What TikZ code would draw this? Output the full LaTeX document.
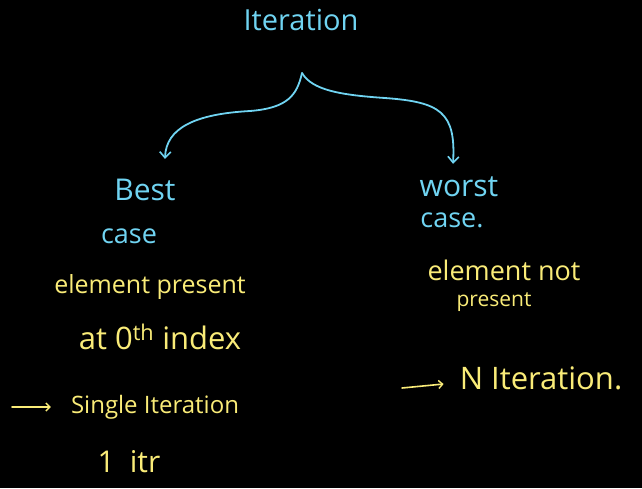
\documentclass[tikz,border=0pt]{standalone}
\usepackage{fontspec}
\setmainfont{Open Sans}
\usetikzlibrary{arrows.meta}
\definecolor{inkblue}{RGB}{112,212,242}
\definecolor{inkyellow}{RGB}{250,236,120}
\tikzset{
  bluetext/.style={text=inkblue, inner sep=0pt, anchor=center},
  yeltext/.style={text=inkyellow, inner sep=0pt, anchor=center},
  branch/.style={draw=inkblue, line width=1.8pt, line cap=round,
    -{Straight Barb[length=6pt,width=11pt,line width=1.6pt]}},
  pointer/.style={draw=inkyellow, line width=1.6pt, line cap=round,
    -{Straight Barb[length=4pt,width=8pt,line width=1.4pt]}},
}
\newcommand{\fs}[1]{\fontsize{#1}{#1}\selectfont}
\begin{document}
\begin{tikzpicture}[x=1pt,y=-1pt]
\fill[black] (0,0) rectangle (642,488);
\useasboundingbox (0,0) rectangle (642,488);

% headings
\node[bluetext, font=\fs{29}] (iter) at (301,20) {Iteration};
\coordinate (top) at (302,73);
\node[bluetext, font=\fs{30}] (best) at (145,190) {Best};
\node[bluetext, font=\fs{27}] (bestcase) at (129,236) {case};
\node[bluetext, font=\fs{30}] (worst) at (459,187) {worst};
\node[bluetext, font=\fs{27}] (worstcase) at (452,220) {case.};

% brace arrows
\draw[branch] (top) .. controls (297,95) and (288,108) .. (250,111)
  .. controls (195,114) and (166,128) .. ([yshift=20pt]best.north -| 165,0);
\draw[branch] (top) .. controls (312,90) and (340,95) .. (385,98)
  .. controls (440,102) and (456,112) .. ([yshift=13pt]worst.north -| 453,0);

% best case details
\node[yeltext, font=\fs{25}] (bp1) at (150,287) {element present};
\node[yeltext, font=\fs{31}] (bp2) at (160,337) {at 0\textsuperscript{th} index};
\coordinate (bpa) at (12,407);
\node[yeltext, font=\fs{24}] (bp3) at (155,407) {Single Iteration};
\draw[pointer] (bpa) -- ([xshift=-20pt]bp3.west);
\node[yeltext, font=\fs{30}] (bp4) at (129,462) {1\hspace{0.5em}itr};

% worst case details
\node[yeltext, font=\fs{27}] (wp1) at (504,270) {element not};
\node[yeltext, font=\fs{21}] (wp2) at (494,302) {present};
\coordinate (wpa) at (402,388);
\node[yeltext, font=\fs{31}] (wp3) at (541,378) {N Iteration.};
\draw[pointer] (wpa) -- ([xshift=-16pt,yshift=-6pt]wp3.west);
\end{tikzpicture}
\end{document}
